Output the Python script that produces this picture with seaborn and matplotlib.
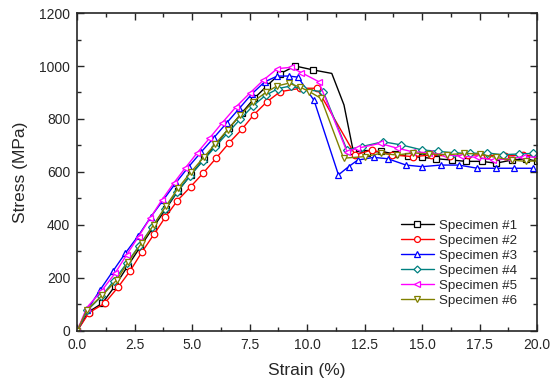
import matplotlib
matplotlib.use("Agg")
import matplotlib.pyplot as plt
from matplotlib.ticker import MultipleLocator, FormatStrFormatter
import seaborn as sns

# strain (%) / stress (MPa), one pair per specimen
s1_strain = [0, 0.5, 1.1, 1.65, 2.2, 2.75, 3.3, 3.85, 4.4, 4.95, 5.5, 6.05, 6.6, 7.15, 7.7, 8.25,
             8.8, 9.48, 10.27, 11.07, 11.6, 12.0, 12.6, 13.2, 13.8, 14.4, 15.0, 15.6, 16.3, 16.9,
             17.6, 18.2, 18.9, 19.5, 20.0]
s1_stress = [0, 72, 105, 170, 245, 318, 390, 460, 530, 590, 648, 705, 765, 822, 878, 925,
             970, 1000, 985, 972, 853, 680, 672, 678, 668, 660, 655, 650, 645, 640,
             640, 633, 645, 650, 640]

s2_strain = [0, 0.52, 1.19, 1.77, 2.3, 2.81, 3.35, 3.83, 4.36, 4.94, 5.49, 6.04, 6.62, 7.16, 7.67,
             8.25, 8.83, 9.7, 10.42, 12.09, 12.8, 13.7, 14.6, 15.4, 16.2, 17.0, 17.8, 18.6, 19.4, 20.0]
s2_stress = [0, 69, 104, 164, 226, 297, 366, 429, 492, 545, 597, 652, 711, 761, 815,
             865, 903, 916, 916, 664, 683, 664, 658, 664, 660, 664, 664, 660, 664, 660]

s3_strain = [0, 0.45, 1.0, 1.55, 2.1, 2.65, 3.2, 3.75, 4.3, 4.85, 5.4, 5.95, 6.5, 7.05, 7.6, 8.15,
             8.7, 9.2, 9.6, 10.3, 11.36, 11.8, 12.2, 12.9, 13.5, 14.3, 15.0, 15.8, 16.6, 17.4,
             18.2, 19.0, 19.8]
s3_stress = [0, 80, 155, 225, 294, 358, 430, 495, 560, 620, 676, 730, 785, 840, 895, 940,
             962, 962, 958, 870, 589, 620, 645, 655, 650, 626, 620, 626, 626, 614,
             614, 614, 614]

s4_strain = [0, 0.45, 1.05, 1.6, 2.15, 2.7, 3.25, 3.8, 4.35, 4.9, 5.45, 6.0, 6.55, 7.1, 7.65, 8.2,
             8.75, 9.3, 9.8, 10.7, 11.73, 12.38, 13.3, 14.1, 15.0, 15.7, 16.4, 17.1, 17.8, 18.5,
             19.2, 19.8]
s4_stress = [0, 78, 130, 190, 255, 322, 392, 460, 525, 585, 640, 695, 748, 800, 850, 890,
             915, 925, 912, 903, 683, 696, 714, 702, 683, 678, 672, 670, 672, 665,
             668, 670]

s5_strain = [0, 0.42, 1.05, 1.65, 2.15, 2.67, 3.17, 3.68, 4.2, 4.7, 5.2, 5.75, 6.3, 6.9, 7.5, 8.1,
             8.7, 9.3, 9.75, 10.5, 11.73, 12.16, 13.17, 13.9, 14.55, 15.3, 16.0, 16.7, 17.4, 18.1,
             18.8, 19.4, 20.0]
s5_stress = [0, 88, 150, 218, 287, 356, 425, 494, 558, 615, 670, 727, 785, 845, 897, 947,
             990, 995, 975, 941, 677, 689, 708, 690, 677, 672, 665, 660, 655, 645,
             650, 658, 655]

s6_strain = [0, 0.42, 1.1, 1.72, 2.23, 2.8, 3.32, 3.85, 4.4, 4.95, 5.5, 6.0, 6.55, 7.1, 7.65, 8.2,
             8.7, 9.2, 9.7, 10.1, 10.6, 11.58, 12.5, 13.2, 13.9, 14.6, 15.3, 16.1, 16.8, 17.5,
             18.2, 18.9, 19.5, 20.0]
s6_stress = [0, 80, 135, 192, 262, 331, 400, 470, 540, 600, 655, 705, 760, 815, 865, 900,
             925, 935, 920, 903, 878, 652, 658, 670, 664, 672, 668, 665, 670, 668,
             655, 645, 640, 642]

names = ["Specimen #1", "Specimen #2", "Specimen #3", "Specimen #4", "Specimen #5", "Specimen #6"]
colors = ["black", "#ff0000", "#0000ff", "#008080", "#ff00ff", "#808000"]
markers = ["s", "o", "^", "D", "<", "v"]

sns.set_style("ticks")
plt.rcParams["font.family"] = ["Liberation Sans", "DejaVu Sans"]

fig = plt.figure(figsize=(5.59, 3.83), dpi=100)
ax = fig.add_axes([0.138, 0.136, 0.823, 0.830])

series = [(s1_strain, s1_stress), (s2_strain, s2_stress), (s3_strain, s3_stress),
          (s4_strain, s4_stress), (s5_strain, s5_stress), (s6_strain, s6_stress)]

for i, (x, y) in enumerate(series):
    mk = list(range(len(x)))
    if i == 0:
        # no symbols on the shoulder of the drop for specimen 1
        mk = [k for k in mk if k not in (19, 20)]
    msize = 3.9 if markers[i] == "D" else 4.7
    sns.lineplot(x=x, y=y, ax=ax, color=colors[i], marker=markers[i], markersize=msize,
                 markerfacecolor="white", markeredgecolor=colors[i], markeredgewidth=0.9,
                 markevery=mk, linewidth=1.0, sort=False, estimator=None, errorbar=None,
                 label=names[i])

ax.set_xlim(0, 20)
ax.set_ylim(0, 1200)
ax.xaxis.set_major_locator(MultipleLocator(2.5))
ax.xaxis.set_minor_locator(MultipleLocator(1.25))
ax.xaxis.set_major_formatter(FormatStrFormatter("%.1f"))
ax.yaxis.set_major_locator(MultipleLocator(200))
ax.yaxis.set_minor_locator(MultipleLocator(100))
ax.tick_params(which="both", direction="in", top=True, right=True, labelsize=10, width=1.0)
ax.tick_params(which="major", length=5, pad=5)
ax.tick_params(which="minor", length=3)
for sp in ax.spines.values():
    sp.set_linewidth(1.2)

ax.set_xlabel("Strain (%)", fontsize=12.5, labelpad=8)
ax.set_ylabel("Stress (MPa)", fontsize=12.5, labelpad=8)

ax.legend(loc="upper left", bbox_to_anchor=(0.683, 0.38), frameon=False, fontsize=9.6,
          handlelength=2.5, handletextpad=0.4, labelspacing=0.2, borderpad=0.2,
          markerscale=0.9)

fig.savefig("out.png", dpi=100)
